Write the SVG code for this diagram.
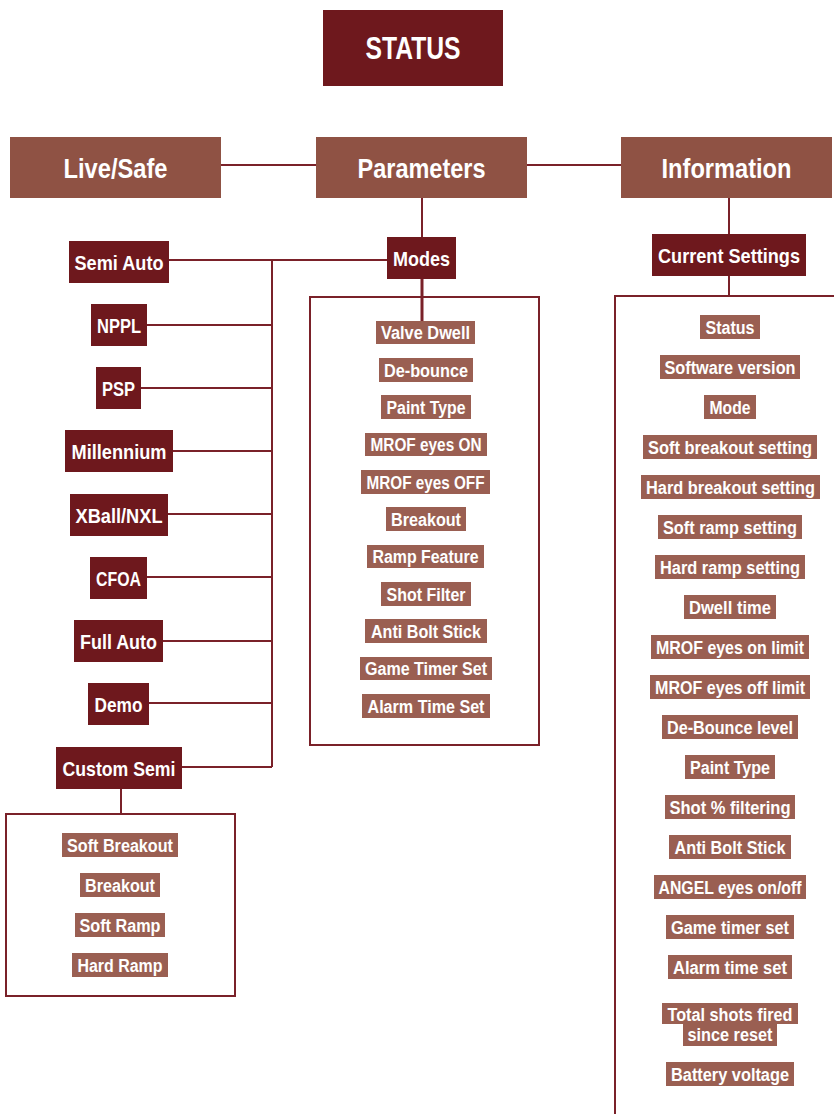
<svg xmlns="http://www.w3.org/2000/svg" width="834" height="1114" viewBox="0 0 834 1114">
<style>
.dk{fill:#6e181d}
.md{fill:#8f5244}
.it{fill:#9a5f52}
.t{font-family:"Liberation Sans",Arial,sans-serif;font-weight:bold;fill:#fff;text-anchor:middle}
.big{font-size:31px}
.l1{font-size:28px}
.l2{font-size:21px}
.s{font-size:18px}
.ln{stroke:#7a2129;stroke-width:2;fill:none}
</style>
<rect width="834" height="1114" fill="#fff"/>
<g id="connectors">
<path class="ln" d="M221 165H316M527 165H621"/>
<path class="ln" d="M422 198V237"/>
<path class="ln" d="M422 279V321" style="stroke-width:3"/>
<path class="ln" d="M729 198V234M729 276V296"/>
<path class="ln" d="M169 260H387M272 260V767"/>
<path class="ln" d="M147 325H272M141 388H272M173 451H272M168 514H272M147 577H272M163 641H272M149 703H272M182 767H272"/>
<path class="ln" d="M121 789V814"/>
<rect class="ln" x="6" y="814" width="229" height="182"/>
<rect class="ln" x="310" y="297" width="229" height="448"/>
<path class="ln" d="M615 1114V296H834"/>
</g>
<g id="status"><rect class="dk" x="323" y="10" width="180" height="76"/><text class="t big" x="413" y="59" textLength="95" lengthAdjust="spacingAndGlyphs">STATUS</text></g>
<g id="live-safe"><rect class="md" x="10" y="137" width="211" height="61"/><text class="t l1" x="115.5" y="178" textLength="104" lengthAdjust="spacingAndGlyphs">Live/Safe</text></g>
<g id="parameters"><rect class="md" x="316" y="137" width="211" height="61"/><text class="t l1" x="421.5" y="178" textLength="128" lengthAdjust="spacingAndGlyphs">Parameters</text></g>
<g id="information"><rect class="md" x="621" y="137" width="211" height="61"/><text class="t l1" x="726.5" y="178" textLength="130" lengthAdjust="spacingAndGlyphs">Information</text></g>
<g id="modes"><rect class="dk" x="387" y="237" width="69" height="42"/><text class="t l2" x="421.5" y="265.5" textLength="57" lengthAdjust="spacingAndGlyphs">Modes</text></g>
<g id="current-settings"><rect class="dk" x="652" y="234" width="154" height="42"/><text class="t l2" x="729" y="262.5" textLength="142" lengthAdjust="spacingAndGlyphs">Current Settings</text></g>
<g id="semi-auto"><rect class="dk" x="69" y="241" width="100" height="42"/><text class="t l2" x="119" y="269.5" textLength="89" lengthAdjust="spacingAndGlyphs">Semi Auto</text></g>
<g id="nppl"><rect class="dk" x="91" y="304" width="56" height="42"/><text class="t l2" x="119" y="332.5" textLength="44" lengthAdjust="spacingAndGlyphs">NPPL</text></g>
<g id="psp"><rect class="dk" x="96" y="367" width="45" height="42"/><text class="t l2" x="118.5" y="395.5" textLength="33" lengthAdjust="spacingAndGlyphs">PSP</text></g>
<g id="millennium"><rect class="dk" x="65" y="430" width="108" height="42"/><text class="t l2" x="119" y="458.5" textLength="95" lengthAdjust="spacingAndGlyphs">Millennium</text></g>
<g id="xball"><rect class="dk" x="70" y="494" width="98" height="42"/><text class="t l2" x="119" y="522.5" textLength="87" lengthAdjust="spacingAndGlyphs">XBall/NXL</text></g>
<g id="cfoa"><rect class="dk" x="90" y="557" width="57" height="42"/><text class="t l2" x="118.5" y="585.5" textLength="45" lengthAdjust="spacingAndGlyphs">CFOA</text></g>
<g id="full-auto"><rect class="dk" x="74" y="620" width="89" height="42"/><text class="t l2" x="118.5" y="648.5" textLength="77" lengthAdjust="spacingAndGlyphs">Full Auto</text></g>
<g id="demo"><rect class="dk" x="88" y="683" width="61" height="42"/><text class="t l2" x="118.5" y="711.5" textLength="48" lengthAdjust="spacingAndGlyphs">Demo</text></g>
<g id="custom-semi"><rect class="dk" x="56" y="747" width="126" height="42"/><text class="t l2" x="119" y="775.5" textLength="113" lengthAdjust="spacingAndGlyphs">Custom Semi</text></g>
<g id="custom-items">
<rect class="it" x="62" y="833" width="116" height="24"/><text class="t s" x="120" y="851.5" textLength="106" lengthAdjust="spacingAndGlyphs">Soft Breakout</text>
<rect class="it" x="80" y="873" width="80" height="24"/><text class="t s" x="120" y="891.5" textLength="70" lengthAdjust="spacingAndGlyphs">Breakout</text>
<rect class="it" x="75" y="913" width="90" height="24"/><text class="t s" x="120" y="931.5" textLength="81" lengthAdjust="spacingAndGlyphs">Soft Ramp</text>
<rect class="it" x="72" y="953" width="96" height="24"/><text class="t s" x="120" y="971.5" textLength="85" lengthAdjust="spacingAndGlyphs">Hard Ramp</text>
</g>
<g id="mode-items">
<rect class="it" x="376" y="321" width="99" height="23"/><text class="t s" x="425.5" y="339" textLength="89" lengthAdjust="spacingAndGlyphs">Valve Dwell</text>
<rect class="it" x="379" y="358" width="94" height="24"/><text class="t s" x="426" y="376.5" textLength="84" lengthAdjust="spacingAndGlyphs">De-bounce</text>
<rect class="it" x="381" y="395" width="90" height="24"/><text class="t s" x="426" y="413.5" textLength="79" lengthAdjust="spacingAndGlyphs">Paint Type</text>
<rect class="it" x="365" y="433" width="122" height="23"/><text class="t s" x="426" y="451" textLength="111" lengthAdjust="spacingAndGlyphs">MROF eyes ON</text>
<rect class="it" x="361" y="470" width="129" height="24"/><text class="t s" x="425.5" y="488.5" textLength="118" lengthAdjust="spacingAndGlyphs">MROF eyes OFF</text>
<rect class="it" x="386" y="507" width="80" height="24"/><text class="t s" x="426" y="525.5" textLength="70" lengthAdjust="spacingAndGlyphs">Breakout</text>
<rect class="it" x="367" y="545" width="117" height="23"/><text class="t s" x="425.5" y="563" textLength="106" lengthAdjust="spacingAndGlyphs">Ramp Feature</text>
<rect class="it" x="381" y="582" width="90" height="24"/><text class="t s" x="426" y="600.5" textLength="79" lengthAdjust="spacingAndGlyphs">Shot Filter</text>
<rect class="it" x="365" y="619" width="122" height="24"/><text class="t s" x="426" y="637.5" textLength="110" lengthAdjust="spacingAndGlyphs">Anti Bolt Stick</text>
<rect class="it" x="360" y="657" width="132" height="23"/><text class="t s" x="426" y="675" textLength="122" lengthAdjust="spacingAndGlyphs">Game Timer Set</text>
<rect class="it" x="362" y="694" width="128" height="24"/><text class="t s" x="426" y="712.5" textLength="117" lengthAdjust="spacingAndGlyphs">Alarm Time Set</text>
</g>
<g id="info-items">
<rect class="it" x="700" y="315" width="60" height="24"/><text class="t s" x="730" y="333.5" textLength="49" lengthAdjust="spacingAndGlyphs">Status</text>
<rect class="it" x="660" y="355" width="140" height="24"/><text class="t s" x="730" y="373.5" textLength="131" lengthAdjust="spacingAndGlyphs">Software version</text>
<rect class="it" x="704" y="395" width="52" height="24"/><text class="t s" x="730" y="413.5" textLength="41" lengthAdjust="spacingAndGlyphs">Mode</text>
<rect class="it" x="643" y="435" width="174" height="24"/><text class="t s" x="730" y="453.5" textLength="164" lengthAdjust="spacingAndGlyphs">Soft breakout setting</text>
<rect class="it" x="641" y="475" width="179" height="24"/><text class="t s" x="730.5" y="493.5" textLength="169" lengthAdjust="spacingAndGlyphs">Hard breakout setting</text>
<rect class="it" x="658" y="515" width="144" height="24"/><text class="t s" x="730" y="533.5" textLength="134" lengthAdjust="spacingAndGlyphs">Soft ramp setting</text>
<rect class="it" x="655" y="555" width="150" height="24"/><text class="t s" x="730" y="573.5" textLength="140" lengthAdjust="spacingAndGlyphs">Hard ramp setting</text>
<rect class="it" x="684" y="595" width="92" height="24"/><text class="t s" x="730" y="613.5" textLength="82" lengthAdjust="spacingAndGlyphs">Dwell time</text>
<rect class="it" x="651" y="635" width="158" height="24"/><text class="t s" x="730" y="653.5" textLength="148" lengthAdjust="spacingAndGlyphs">MROF eyes on limit</text>
<rect class="it" x="650" y="675" width="160" height="24"/><text class="t s" x="730" y="693.5" textLength="150" lengthAdjust="spacingAndGlyphs">MROF eyes off limit</text>
<rect class="it" x="662" y="715" width="136" height="24"/><text class="t s" x="730" y="733.5" textLength="126" lengthAdjust="spacingAndGlyphs">De-Bounce level</text>
<rect class="it" x="685" y="755" width="90" height="24"/><text class="t s" x="730" y="773.5" textLength="80" lengthAdjust="spacingAndGlyphs">Paint Type</text>
<rect class="it" x="665" y="795" width="130" height="24"/><text class="t s" x="730" y="813.5" textLength="121" lengthAdjust="spacingAndGlyphs">Shot % filtering</text>
<rect class="it" x="669" y="835" width="122" height="24"/><text class="t s" x="730" y="853.5" textLength="111" lengthAdjust="spacingAndGlyphs">Anti Bolt Stick</text>
<rect class="it" x="654" y="875" width="152" height="24"/><text class="t s" x="730" y="893.5" textLength="143" lengthAdjust="spacingAndGlyphs">ANGEL eyes on/off</text>
<rect class="it" x="666" y="915" width="128" height="24"/><text class="t s" x="730" y="933.5" textLength="118" lengthAdjust="spacingAndGlyphs">Game timer set</text>
<rect class="it" x="668" y="955" width="124" height="24"/><text class="t s" x="730" y="973.5" textLength="114" lengthAdjust="spacingAndGlyphs">Alarm time set</text>
<rect class="it" x="662" y="1003" width="136" height="21"/><rect class="it" x="683" y="1023" width="94" height="23"/>
<text class="t s" x="730" y="1020.5" textLength="125" lengthAdjust="spacingAndGlyphs">Total shots fired</text>
<text class="t s" x="730" y="1040.5" textLength="85" lengthAdjust="spacingAndGlyphs">since reset</text>
<rect class="it" x="666" y="1062" width="128" height="24"/><text class="t s" x="730" y="1080.5" textLength="118" lengthAdjust="spacingAndGlyphs">Battery voltage</text>
</g>
</svg>
